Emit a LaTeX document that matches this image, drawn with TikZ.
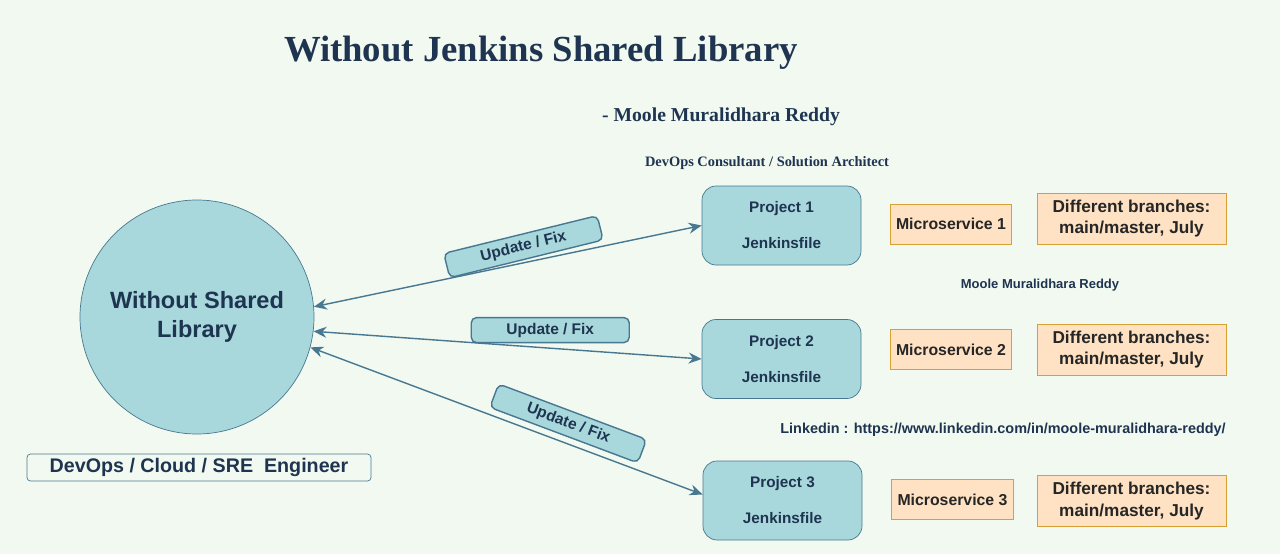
\documentclass[tikz,border=0pt]{standalone}
\usepackage{fontspec}
\setmainfont{Liberation Sans}
\newfontfamily\titlefont{Liberation Serif}
\usetikzlibrary{calc}
\usetikzlibrary{positioning}
\usetikzlibrary{arrows.meta}
\definecolor{bgGreen}{RGB}{241,249,240}
\definecolor{navyText}{RGB}{30,52,80}
\definecolor{tealFill}{RGB}{168,216,220}
\definecolor{tealLine}{RGB}{72,120,145}
\definecolor{peachFill}{RGB}{255,226,196}
\definecolor{peachLine}{RGB}{214,160,50}
\tikzstyle{projnode} = [draw=tealLine, fill=tealFill, rounded corners=8pt, minimum width=3.18cm, minimum height=1.58cm, align=center, text=navyText, font=\fontsize{8.7}{10.5}\selectfont\bfseries]
\tikzstyle{svcnode} = [draw=peachLine, fill=peachFill, minimum width=2.4cm, minimum height=0.8cm, align=center, text=black!85, font=\fontsize{9}{11}\selectfont\bfseries]
\tikzstyle{branchnode} = [draw=peachLine, fill=peachFill, minimum width=3.78cm, minimum height=1.02cm, align=center, text=black!85, font=\fontsize{9.8}{12.3}\selectfont\bfseries]
\tikzstyle{fixnode} = [draw=tealLine, fill=tealFill, rounded corners=3pt, minimum width=3.16cm, minimum height=0.5cm, inner sep=1pt, text=navyText, font=\fontsize{8.8}{10}\selectfont\bfseries]
\tikzstyle{linkarrow} = [draw=tealLine, line width=0.8pt, {Stealth[length=2.6mm,width=2.2mm]}-{Stealth[length=2.6mm,width=2.2mm]}]

\begin{document}
\begin{tikzpicture}
    \fill[bgGreen] (0,0) rectangle (25.6,-11.08);
    \useasboundingbox (0,0) rectangle (25.6,-11.08);
    \node[text=navyText, font=\titlefont\fontsize{20.9}{24}\selectfont\bfseries] (title) at (10.82,-1.06) {Without Jenkins Shared Library};
    \node[text=navyText, font=\titlefont\fontsize{11.2}{13}\selectfont\bfseries] (author) at (14.42,-2.34) {- Moole Muralidhara Reddy};
    \node[text=navyText, font=\titlefont\fontsize{8.2}{10}\selectfont\bfseries] (role) at ($(author)+(0.92,-0.92)$) {DevOps Consultant / Solution Architect};
    \node[draw=tealLine, fill=tealFill, circle, minimum size=4.68cm, align=center, text=navyText, font=\fontsize{13.4}{16.4}\selectfont\bfseries] (hub) at (3.94,-6.34) {Without Shared\\Library};
    \node[draw=tealLine, rounded corners=2pt, minimum width=6.88cm, minimum height=0.54cm, inner sep=1pt, text=navyText, font=\fontsize{11.2}{13}\selectfont\bfseries] (role_box) at ($(hub)+(0.04,-3.01)$) {DevOps / Cloud / SRE\ \ Engineer};
    \node[projnode] (proj1) at (15.63,-4.51) {Project 1\\[10pt]Jenkinsfile};
    \node[projnode] (proj2) at ($(proj1)+(0,-2.67)$) {Project 2\\[10pt]Jenkinsfile};
    \node[projnode] (proj3) at ($(proj2)+(0.02,-2.83)$) {Project 3\\[10pt]Jenkinsfile};
    \node[svcnode] (svc1) at ($(proj1)+(3.39,0.03)$) {Microservice 1};
    \node[svcnode] (svc2) at ($(proj2)+(3.39,0.19)$) {Microservice 2};
    \node[svcnode] (svc3) at ($(proj3)+(3.4,0.02)$) {Microservice 3};
    \node[branchnode] (br1) at ($(svc1)+(3.61,0.11)$) {Different branches:\\main/master, July};
    \node[branchnode] (br2) at ($(svc2)+(3.61,0)$) {Different branches:\\main/master, July};
    \node[branchnode] (br3) at ($(svc3)+(3.58,-0.03)$) {Different branches:\\main/master, July};
    \node[text=navyText, font=\fontsize{7.4}{9}\selectfont\bfseries] (name_small) at (20.8,-5.7) {Moole Muralidhara Reddy};
    \node[text=navyText, font=\fontsize{8.2}{10}\selectfont\bfseries] (linkedin) at (20.06,-8.6) {Linkedin : https://www.linkedin.com/in/moole-muralidhara-reddy/};
    \draw[linkarrow] (hub.5) -- node[fixnode, sloped, rotate=2, above=1.5pt, pos=0.55] (fix1) {Update / Fix} (proj1.west);
    \draw[linkarrow] (hub.-7) -- node[fixnode, above=2.8pt, pos=0.61] (fix2) {Update / Fix} (proj2.west);
    \draw[linkarrow] (hub.-15.5) -- node[fixnode, sloped, above=3.5pt, pos=0.64] (fix3) {Update / Fix} ($(proj3.west)+(0,0.12)$);
\end{tikzpicture}
\end{document}
